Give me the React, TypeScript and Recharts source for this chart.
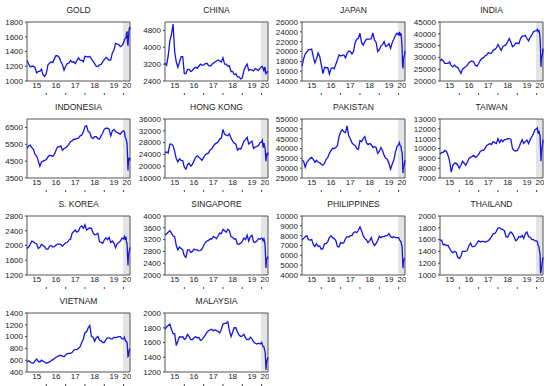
import React from 'react';
import { LineChart, Line, XAxis, YAxis, ReferenceArea } from 'recharts';

// monthly points 2015-2019, then a denser set through the March 2020 crash
const monthly = Array.from({ length: 60 }, (_, i) => 2015 + i / 12);
const dates2020 = [2020.0, 2020.04, 2020.08, 2020.12, 2020.15, 2020.18, 2020.2, 2020.225, 2020.25, 2020.28, 2020.31, 2020.33];
const dates = [...monthly, ...dates2020];

const yearLabels = ['15', '16', '17', '18', '19', '20'];
const yearLabelPos = [2015.5, 2016.5, 2017.5, 2018.5, 2019.5, 2020.17];
const yearBounds = [2016, 2017, 2018, 2019, 2020];

const gold = [
  1280, 1230, 1190, 1200, 1200, 1180, 1110, 1130, 1130, 1160, 1080, 1065,
  1100, 1220, 1240, 1260, 1250, 1300, 1345, 1340, 1320, 1265, 1220, 1145,
  1200, 1235, 1240, 1280, 1255, 1260, 1235, 1280, 1315, 1280, 1280, 1260,
  1335, 1330, 1325, 1335, 1300, 1270, 1235, 1200, 1195, 1220, 1225, 1260,
  1290, 1320, 1305, 1280, 1285, 1380, 1420, 1510, 1500, 1495, 1465, 1480,
  1520, 1555, 1580, 1585, 1650, 1670, 1530, 1480, 1590, 1690, 1730, 1700,
];
const china = [
  3250, 3150, 3600, 4300, 4600, 5100, 3800, 3300, 3050, 3300, 3550, 3550,
  2750, 2750, 2950, 2950, 2850, 2900, 3000, 3050, 3000, 3100, 3200, 3150,
  3150, 3230, 3240, 3150, 3100, 3170, 3250, 3300, 3350, 3400, 3350, 3300,
  3500, 3200, 3200, 3100, 3120, 2850, 2850, 2700, 2750, 2600, 2600, 2500,
  2550, 2900, 3080, 3200, 2900, 2950, 2920, 2880, 2990, 2950, 2900, 3000,
  3080, 3090, 2980, 2880, 3030, 3030, 2890, 2750, 2770, 2820, 2830, 2860,
];
const japan = [
  17000, 18500, 19500, 19900, 20400, 20400, 20500, 19000, 17700, 18500, 19700, 19000,
  17300, 15500, 16800, 16700, 16700, 15400, 16500, 16700, 16500, 17400, 18300, 19300,
  19100, 19200, 19300, 18700, 19600, 20100, 20000, 19500, 20000, 21800, 22500, 22700,
  23700, 21800, 21300, 22000, 22500, 22500, 22500, 22600, 23800, 22300, 21900, 20000,
  20400, 21100, 21400, 22000, 21000, 21200, 21600, 20600, 21800, 22500, 23300, 23700,
  23400, 24000, 23200, 23700, 22600, 20700, 17400, 16550, 18500, 19000, 19400, 20100,
];
const india = [
  28500, 29200, 28500, 27500, 27500, 27500, 28000, 26500, 26000, 26800, 26000, 25800,
  24500, 23200, 25000, 25600, 26000, 26700, 27800, 28300, 28400, 28000, 26600, 26300,
  27400, 28700, 29500, 29900, 30700, 31000, 32000, 31700, 31800, 33000, 33400, 34000,
  35500, 34200, 33000, 34500, 35000, 35400, 36500, 38000, 36500, 34500, 35000, 36000,
  36000, 35800, 38000, 39000, 39000, 39300, 38000, 37000, 38500, 39500, 40800, 41200,
  41300, 41900, 40900, 41300, 40300, 38000, 34100, 26000, 29500, 30700, 31600, 33700,
];
const indonesia = [
  5250, 5400, 5450, 5300, 5200, 4900, 4800, 4500, 4200, 4450, 4500, 4550,
  4600, 4750, 4850, 4830, 4780, 4900, 5150, 5350, 5350, 5400, 5150, 5250,
  5300, 5380, 5500, 5650, 5700, 5800, 5800, 5850, 5870, 6000, 6050, 6250,
  6550, 6600, 6250, 6200, 5900, 5850, 5950, 5950, 5850, 5800, 6000, 6150,
  6400, 6450, 6450, 6400, 6000, 6300, 6380, 6250, 6200, 6150, 6100, 6250,
  6300, 6250, 5950, 5850, 5700, 5500, 4900, 3950, 4500, 4650, 4600, 4700,
];
const hongKong = [
  24500, 24800, 24500, 27500, 27500, 27000, 25000, 22500, 21500, 22500, 22000, 21900,
  19700, 19000, 20500, 21000, 20000, 20600, 21800, 23000, 23500, 23000, 22600, 22000,
  23000, 23800, 24200, 24500, 25500, 25800, 26800, 27500, 27800, 28300, 29200, 29500,
  32500, 30800, 30500, 30300, 31000, 29500, 28500, 27800, 27500, 25500, 26000, 25800,
  27000, 28500, 29000, 29800, 27500, 28000, 28500, 26000, 26500, 26700, 27000, 28000,
  28200, 28800, 26300, 27800, 26800, 26100, 24300, 21700, 23500, 24200, 24000, 24600,
];
const pakistan = [
  34000, 33500, 30500, 33000, 34000, 35000, 35500, 34500, 33000, 34000, 33000, 32800,
  32000, 31500, 32500, 34500, 35500, 37500, 39000, 40000, 40000, 40500, 41500, 46000,
  48500, 49500, 48500, 48000, 51500, 46500, 45000, 43000, 42000, 41500, 40000, 39500,
  44000, 43500, 45000, 46000, 43000, 42000, 42500, 42000, 40500, 41000, 40500, 37500,
  38500, 40500, 39000, 36500, 35000, 34500, 32500, 29500, 32000, 34000, 38000, 41000,
  42000, 43000, 41500, 41000, 39000, 38000, 34500, 27500, 30500, 31500, 33000, 34000,
];
const taiwan = [
  9400, 9600, 9600, 9800, 9700, 9300, 8700, 7600, 8300, 8500, 8500, 8300,
  8000, 8300, 8700, 8500, 8300, 8600, 9000, 9100, 9200, 9300, 9100, 9200,
  9400, 9700, 9800, 9800, 10000, 10300, 10400, 10500, 10400, 10700, 10600, 10500,
  11000, 10600, 10900, 10700, 10900, 10900, 11000, 11000, 10950, 10000, 9800, 9750,
  9800, 10100, 10500, 10900, 10500, 10700, 10850, 10500, 10900, 11200, 11500, 11900,
  12000, 12100, 11500, 11800, 11500, 11300, 10100, 8700, 9700, 10100, 10500, 10900,
];
const sKorea = [
  1920, 1960, 2030, 2120, 2100, 2060, 2040, 1920, 1950, 2030, 2000, 1960,
  1900, 1900, 1980, 2000, 1960, 1970, 2010, 2040, 2040, 2030, 1980, 2030,
  2070, 2080, 2150, 2170, 2330, 2380, 2420, 2360, 2390, 2500, 2530, 2470,
  2560, 2420, 2450, 2480, 2460, 2350, 2290, 2300, 2330, 2100, 2090, 2060,
  2150, 2210, 2160, 2220, 2080, 2120, 2060, 1940, 2050, 2080, 2120, 2200,
  2180, 2240, 2150, 2240, 2080, 2060, 1770, 1460, 1720, 1820, 1890, 1950,
];
const singapore = [
  3350, 3400, 3450, 3500, 3420, 3320, 3300, 3000, 2850, 2950, 2900, 2850,
  2650, 2600, 2850, 2850, 2770, 2800, 2880, 2850, 2850, 2820, 2830, 2880,
  3000, 3100, 3150, 3170, 3220, 3220, 3300, 3280, 3230, 3330, 3420, 3400,
  3550, 3500, 3450, 3550, 3500, 3300, 3270, 3220, 3220, 3050, 3050, 3080,
  3150, 3250, 3200, 3350, 3150, 3300, 3350, 3120, 3110, 3150, 3230, 3210,
  3250, 3240, 3160, 3220, 3150, 2990, 2700, 2240, 2500, 2550, 2600, 2620,
];
const philippines = [
  7600, 7700, 7900, 8000, 7600, 7550, 7600, 7100, 6900, 7200, 6900, 6950,
  6600, 6700, 7200, 7200, 7400, 7800, 8000, 7800, 7700, 7500, 6900, 6850,
  7300, 7200, 7300, 7700, 7900, 7850, 8000, 8000, 8300, 8400, 8300, 8550,
  8900, 8500, 8000, 7700, 7600, 7300, 7500, 7800, 7300, 7000, 7200, 7500,
  7950, 7800, 7900, 7900, 8000, 8000, 8200, 7900, 7800, 7900, 7800, 7800,
  7800, 7600, 7500, 7400, 7100, 6900, 5900, 4700, 5300, 5600, 5700, 5700,
];
const thailand = [
  1590, 1590, 1510, 1520, 1500, 1500, 1450, 1400, 1380, 1400, 1390, 1300,
  1280, 1320, 1400, 1400, 1400, 1420, 1500, 1540, 1480, 1480, 1500, 1540,
  1580, 1560, 1570, 1570, 1560, 1570, 1580, 1610, 1650, 1700, 1700, 1740,
  1800, 1800, 1780, 1770, 1750, 1650, 1640, 1700, 1730, 1700, 1650, 1580,
  1600, 1650, 1640, 1670, 1620, 1700, 1730, 1650, 1640, 1600, 1600, 1580,
  1580, 1560, 1500, 1480, 1400, 1360, 1030, 1050, 1120, 1180, 1260, 1300,
];
const vietnam = [
  570, 590, 570, 550, 550, 590, 620, 580, 570, 600, 580, 570,
  550, 560, 570, 590, 610, 630, 650, 660, 680, 680, 670, 660,
  690, 710, 715, 715, 730, 770, 780, 785, 800, 830, 900, 960,
  1070, 1080, 1150, 1190, 1000, 990, 920, 980, 1000, 940, 930, 900,
  900, 950, 980, 980, 960, 960, 990, 980, 990, 1000, 1000, 960,
  960, 990, 940, 920, 920, 890, 810, 660, 670, 750, 780, 770,
];
const malaysia = [
  1780, 1810, 1830, 1850, 1780, 1720, 1720, 1560, 1620, 1680, 1670, 1680,
  1640, 1660, 1710, 1680, 1640, 1640, 1660, 1680, 1660, 1670, 1630, 1640,
  1670, 1700, 1740, 1760, 1770, 1780, 1760, 1770, 1760, 1750, 1730, 1780,
  1850, 1860, 1860, 1880, 1760, 1680, 1740, 1800, 1800, 1740, 1700, 1680,
  1690, 1710, 1660, 1640, 1640, 1670, 1650, 1610, 1590, 1580, 1590, 1580,
  1600, 1570, 1540, 1540, 1500, 1480, 1390, 1230, 1320, 1360, 1380, 1400,
];

const panels = [
  { name: 'GOLD', values: gold, lo: 1000, hi: 1800, ticks: [1000, 1200, 1400, 1600, 1800], col: 0, row: 0 },
  { name: 'CHINA', values: china, lo: 2400, hi: 5200, ticks: [2400, 3200, 4000, 4800], col: 1, row: 0 },
  { name: 'JAPAN', values: japan, lo: 14000, hi: 26000, ticks: [14000, 16000, 18000, 20000, 22000, 24000, 26000], col: 2, row: 0 },
  { name: 'INDIA', values: india, lo: 20000, hi: 45000, ticks: [20000, 25000, 30000, 35000, 40000, 45000], col: 3, row: 0 },
  { name: 'INDONESIA', values: indonesia, lo: 3500, hi: 7000, ticks: [3500, 4500, 5500, 6500], col: 0, row: 1 },
  { name: 'HONG KONG', values: hongKong, lo: 16000, hi: 36000, ticks: [16000, 20000, 24000, 28000, 32000, 36000], col: 1, row: 1 },
  { name: 'PAKISTAN', values: pakistan, lo: 25000, hi: 55000, ticks: [25000, 30000, 35000, 40000, 45000, 50000, 55000], col: 2, row: 1 },
  { name: 'TAIWAN', values: taiwan, lo: 7000, hi: 13000, ticks: [7000, 8000, 9000, 10000, 11000, 12000, 13000], col: 3, row: 1 },
  { name: 'S. KOREA', values: sKorea, lo: 1200, hi: 2800, ticks: [1200, 1600, 2000, 2400, 2800], col: 0, row: 2 },
  { name: 'SINGAPORE', values: singapore, lo: 2000, hi: 4000, ticks: [2000, 2400, 2800, 3200, 3600, 4000], col: 1, row: 2 },
  { name: 'PHILIPPINES', values: philippines, lo: 4000, hi: 10000, ticks: [4000, 5000, 6000, 7000, 8000, 9000, 10000], col: 2, row: 2 },
  { name: 'THAILAND', values: thailand, lo: 1000, hi: 2000, ticks: [1000, 1200, 1400, 1600, 1800, 2000], col: 3, row: 2 },
  { name: 'VIETNAM', values: vietnam, lo: 400, hi: 1400, ticks: [400, 600, 800, 1000, 1200, 1400], col: 0, row: 3 },
  { name: 'MALAYSIA', values: malaysia, lo: 1200, hi: 2000, ticks: [1200, 1400, 1600, 1800, 2000], col: 1, row: 3 },
];

const colX = [27, 165, 302, 440];
const rowY = [22, 119, 216, 313];
const PW = 103; // plot width
const PH = 59; // plot height
const AXW = 27; // y axis width
const TOP = 6; // room for the top tick label
const X0 = 2015;
const X1 = 2020.33;
const tickStyle = { fontSize: 8, fill: '#222' };

function Panel({ p }: { p: any }) {
  const rows = dates.map((t, i) => ({ t, v: p.values[i] }));
  const w = AXW + PW + 1;
  const h = TOP + PH + 15;
  return (
    <>
      <div
        style={{
          position: 'absolute',
          left: colX[p.col],
          top: rowY[p.row] - 17,
          width: PW,
          height: 10,
          lineHeight: '10px',
          fontSize: 8.5,
          textAlign: 'center',
          color: '#222',
        }}
      >
        {p.name}
      </div>
      <div style={{ position: 'absolute', left: colX[p.col] - AXW, top: rowY[p.row] - TOP }}>
        <LineChart width={w} height={h} data={rows} margin={{ top: TOP, right: 1, bottom: 0, left: 0 }}>
          <XAxis
            xAxisId="t"
            type="number"
            dataKey="t"
            domain={[X0, X1]}
            ticks={yearBounds}
            tickFormatter={() => ''}
            tickSize={2}
            axisLine={false}
            height={3}
            stroke="#444"
            interval={0}
          />
          <XAxis
            xAxisId="lab"
            type="number"
            dataKey="t"
            domain={[X0, X1]}
            ticks={yearLabelPos}
            tickFormatter={(v: number) => yearLabels[yearLabelPos.indexOf(v)]}
            tickLine={false}
            tickSize={0}
            tickMargin={1}
            axisLine={false}
            height={12}
            tick={tickStyle}
            interval={0}
          />
          <YAxis
            yAxisId="v"
            type="number"
            domain={[p.lo, p.hi]}
            ticks={p.ticks}
            width={AXW}
            tickSize={2}
            tickMargin={2}
            axisLine={false}
            stroke="#444"
            tick={tickStyle}
            interval={0}
          />
          <ReferenceArea
            xAxisId="t"
            yAxisId="v"
            x1={2019.97}
            x2={X1}
            y1={p.lo}
            y2={p.hi}
            fill="#e4e4e4"
            fillOpacity={1}
            stroke="none"
          />
          <Line
            xAxisId="t"
            yAxisId="v"
            type="linear"
            dataKey="v"
            stroke="#1414e6"
            strokeWidth={1.3}
            dot={false}
            isAnimationActive={false}
          />
          <ReferenceArea
            xAxisId="t"
            yAxisId="v"
            x1={X0}
            x2={X1}
            y1={p.lo}
            y2={p.hi}
            fill="none"
            stroke="#555"
            strokeWidth={1}
          />
        </LineChart>
      </div>
    </>
  );
}

export default function App() {
  return (
    <div
      style={{
        position: 'absolute',
        left: 0,
        top: 0,
        width: 550,
        height: 386,
        background: '#fff',
        fontFamily: '"Liberation Sans", Arial, sans-serif',
      }}
    >
      {panels.map((p) => (
        <Panel key={p.name} p={p} />
      ))}
    </div>
  );
}
